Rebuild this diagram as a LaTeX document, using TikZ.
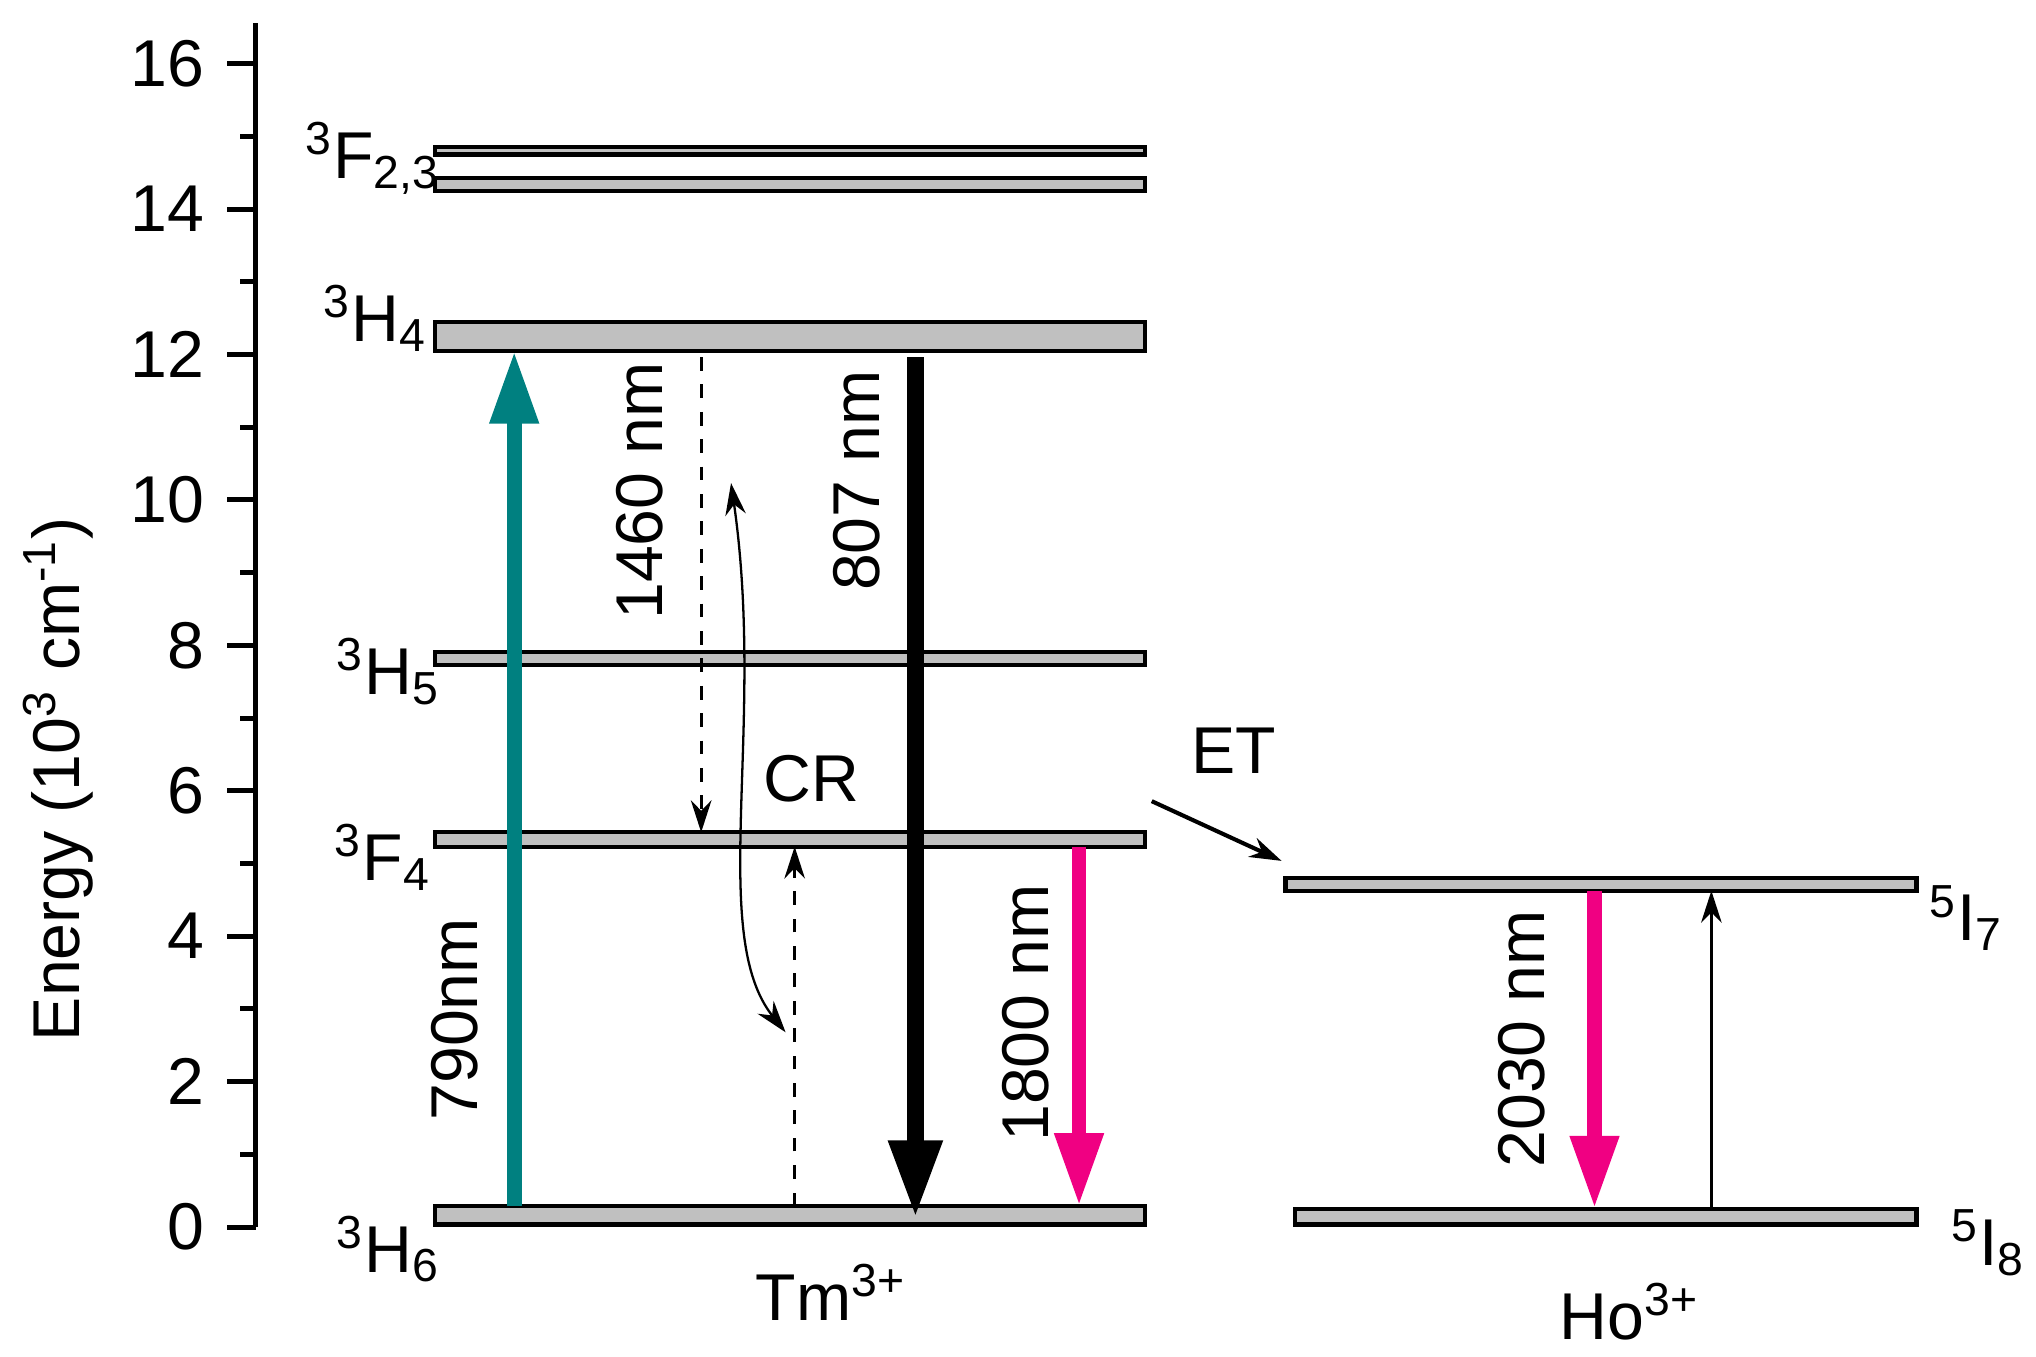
\documentclass[tikz,border=0pt]{standalone}
\usepackage{fontspec}
\setmainfont{Liberation Sans}
\usetikzlibrary{arrows.meta}
\definecolor{teal2}{RGB}{0,128,128}
\definecolor{mag}{RGB}{240,0,130}
\definecolor{lev}{RGB}{192,192,192}
\newcommand{\sps}[1]{\textsuperscript{#1}}
\newcommand{\sbs}[1]{\textsubscript{#1}}
\begin{document}
\begin{tikzpicture}[x=0.01cm,y=-0.01cm,
  lvl/.style={draw=black,fill=lev,line width=0.9pt},
  lab/.style={font=\fontsize{14.5}{16}\selectfont,inner sep=0},
  tk/.style={font=\fontsize{14.5}{16}\selectfont,anchor=east,inner sep=0}]
\useasboundingbox (0,0) rectangle (1568,1045);
% axis
\draw[line width=1.1pt] (197,18) -- (197,945);
\foreach \v in {0,2,...,16}{
  \draw[line width=1.1pt] (197,945-56*\v) -- (175,945-56*\v);
  \node[tk] at (158,945-56*\v) {\v};}
\foreach \v in {1,3,...,15}{
  \draw[line width=1.1pt] (197,945-56*\v) -- (185,945-56*\v);}
\node[lab,rotate=90] (ylab) at (45,600) {Energy (10\sps{3} cm\sps{-1})};
% levels
\draw[lvl] (335,113) rectangle (882,119);
\draw[lvl] (335,137) rectangle (882,147);
\draw[lvl] (335,248) rectangle (882,270);
\draw[lvl] (335,502) rectangle (882,512);
\draw[lvl] (335,641) rectangle (882,652);
\draw[lvl] (335,929) rectangle (882,943);
\draw[lvl] (990,676) rectangle (1476,686);
\draw[lvl] (997,931) rectangle (1476,943);
% level labels
\node[lab,anchor=east] (f23) at (340,122) {\sps{3}F\sbs{2,3}};
\node[lab,anchor=east] (h4) at (330,245) {\sps{3}H\sbs{4}};
\node[lab,anchor=east] (h5) at (340,517) {\sps{3}H\sbs{5}};
\node[lab,anchor=east] (f4) at (333,660) {\sps{3}F\sbs{4}};
\node[lab,anchor=east] (h6) at (340,962) {\sps{3}H\sbs{6}};
\node[lab,anchor=west] (i7) at (1485,707) {\sps{5}I\sbs{7}};
\node[lab,anchor=west] (i8) at (1502,957) {\sps{5}I\sbs{8}};
\node[lab] (tm) at (640,995) {Tm\sps{3+}};
\node[lab] (ho) at (1255,1010) {Ho\sps{3+}};
\node[lab] (et) at (950,578) {ET};
\node[lab] (cr) at (625,600) {CR};
% coordinates
\coordinate (a1) at (396,929); \coordinate (a2) at (396,270);
\coordinate (b1) at (705,275); \coordinate (b2) at (705,938);
\coordinate (c1) at (540,275); \coordinate (c2) at (540,641);
\coordinate (d1) at (612,929); \coordinate (d2) at (612,652);
\coordinate (e1) at (563,372); \coordinate (e2) at (605,795);
\coordinate (m1) at (831,652); \coordinate (m2) at (831,929);
\coordinate (t1) at (887,617); \coordinate (t2) at (987,663);
\coordinate (n1) at (1228,686); \coordinate (n2) at (1228,931);
\coordinate (k1) at (1318,931); \coordinate (k2) at (1318,686);
% arrows
\draw[teal2,line width=3.2pt,-{Triangle[length=16pt,width=10pt]}] (a1) -- (a2);
\draw[black,line width=3.6pt,-{Triangle[length=17pt,width=11pt]}] (b1) -- (b2);
\draw[mag,line width=3.2pt,-{Triangle[length=16pt,width=10pt]}] (m1) -- (m2);
\draw[mag,line width=3.2pt,-{Triangle[length=16pt,width=10pt]}] (n1) -- (n2);
\draw[dashed,line width=0.7pt,-{Stealth[length=7pt,width=4.5pt]}] (c1) -- (c2);
\draw[dashed,line width=0.7pt,-{Stealth[length=7pt,width=4.5pt]}] (d1) -- (d2);
\draw[line width=0.7pt,-{Stealth[length=7pt,width=4.5pt]}] (k1) -- (k2);
\draw[line width=0.9pt,-{Stealth[length=7pt,width=4.5pt]}] (t1) -- (t2);
\draw[line width=0.5pt,{Stealth[length=7pt,width=4.5pt]}-{Stealth[length=7pt,width=4.5pt]}] (e1) .. controls (590,560) and (545,720) .. (e2);
% arrow labels
\node[lab,rotate=90] (l790) at (350,785) {790nm};
\node[lab,rotate=90] (l807) at (660,370) {807 nm};
\node[lab,rotate=90] (l1460) at (493,378) {1460 nm};
\node[lab,rotate=90] (l1800) at (790,780) {1800 nm};
\node[lab,rotate=90] (l2030) at (1172,800) {2030 nm};
\end{tikzpicture}
\end{document}
